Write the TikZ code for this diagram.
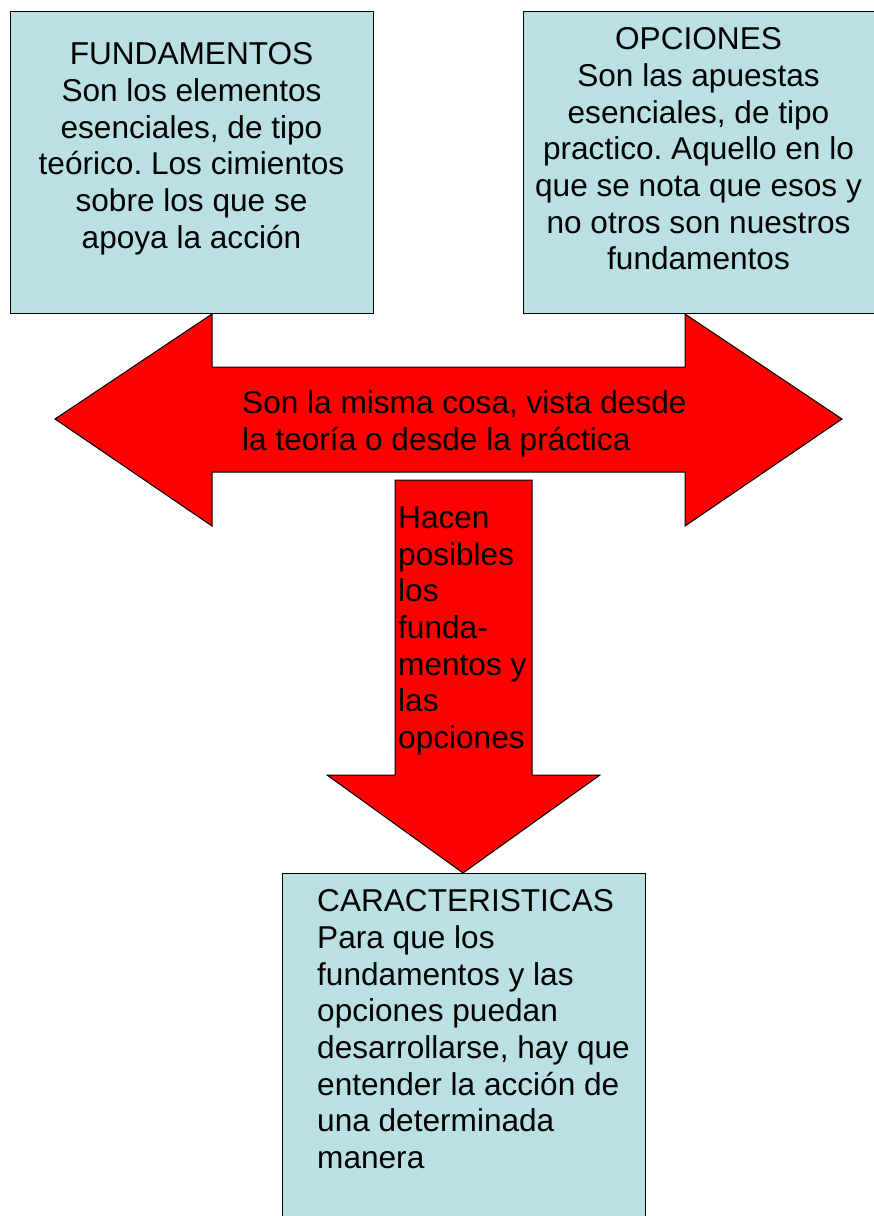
\documentclass[tikz,border=0pt]{standalone}
\usepackage{fontspec}
\setmainfont{Liberation Sans}
\usetikzlibrary{positioning}
\definecolor{cajaazul}{RGB}{186,224,227}
\definecolor{flecharoja}{RGB}{255,0,0}
\frenchspacing

\begin{document}
\begin{tikzpicture}[x=1pt,y=-1pt]
				\clip (0,0) rectangle (874,1216);
				\fill[white] (0,0) rectangle (874,1216);
				\begin{scope}[every node/.style={inner sep=0,font=\fontsize{31.6}{36.7}\selectfont},caja/.style={draw,line width=1.3pt,fill=cajaazul,anchor=north west},flecha/.style={draw,line width=1pt,fill=flecharoja,line join=miter}]
				% cajas
				\node[caja, minimum width=363, minimum height=302] (fund) at (10,11) {};
				\node[caja, minimum width=353, minimum height=302] (opc) at (523,11) {};
				\node[caja, minimum width=363, minimum height=360] (carac) at (282,873) {};
				
				% flechas
				\draw[flecha] (55,419) -- (212,314) -- (212,367) -- (685,367) -- (685,314) -- (842,419) -- (685,526) -- (685,472) -- (212,472) -- (212,526) -- cycle;
				\draw[flecha] (395,480) -- (532,480) -- (532,775) -- (600,775) -- (463,873) -- (327,775) -- (395,775) -- cycle;
				
				% textos
				\node[anchor=north, align=center] (fundtxt) at (191.5,42.4) {FUNDAMENTOS\\Son los elementos\\esenciales, de tipo\\teórico. Los cimientos\\sobre los que se\\apoya la acción};
				\node[anchor=north, align=center] (opctxt) at (698.5,27.4) {OPCIONES\\Son las apuestas\\esenciales, de tipo\\practico. Aquello en lo\\que se nota que esos y\\no otros son nuestros\\fundamentos};
				\node[anchor=north west, align=left] (mismatxt) at (242,390.4) {Son la misma cosa, vista desde\\la teoría o desde la práctica};
				\node[anchor=north west, align=left] (hacentxt) at (398,506.4) {Hacen\\posibles\\los\\funda-\\mentos y\\las\\opciones};
				\node[anchor=north west, align=left] (caractxt) at (317,889.4) {CARACTERISTICAS\\Para que los\\fundamentos y las\\opciones puedan\\desarrollarse, hay que\\entender la acción de\\una determinada\\manera};
				\end{scope}
\end{tikzpicture}
\end{document}
